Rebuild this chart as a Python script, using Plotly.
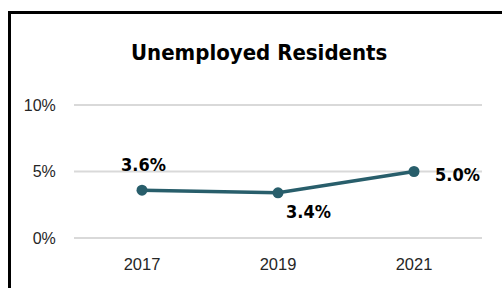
import plotly.graph_objects as go

years = ["2017", "2019", "2021"]
rates = [3.6, 3.4, 5.0]
labels = ["3.6%", "3.4%", "5.0%"]
y_ticks = [0, 5, 10]
y_tick_text = ["0%", "5%", "10%"]

W, H = 502, 288
L, R, T, B = 74, 20, 104, 49
pw, ph = W - L - R, H - T - B

def px(x):
    return (x - L) / pw

def py(y):
    return (H - B - y) / ph

line_color = "#285E6B"
cond = "DejaVu Sans Condensed, Liberation Sans Narrow, sans-serif"

fig = go.Figure()

# gridlines
for v in y_ticks:
    fig.add_shape(type="line", xref="paper", yref="y", x0=0, x1=1, y0=v, y1=v,
                  line=dict(color="#D9D9D9", width=2), layer="below")

fig.add_trace(go.Scatter(
    x=years, y=rates, mode="lines+markers",
    line=dict(color=line_color, width=3.5),
    marker=dict(color=line_color, size=11, line=dict(width=0)),
    hoverinfo="skip", showlegend=False,
))

label_font = dict(family=cond, size=18, color="#000000")
shifts = [(1, 26), (30, -19), (43, -3)]
for i, (yv, t, (dx, dy)) in enumerate(zip(rates, labels, shifts)):
    fig.add_annotation(x=i, y=yv, text="<b>" + t + "</b>", showarrow=False,
                       xshift=dx, yshift=dy, font=label_font)

fig.add_annotation(xref="paper", yref="paper", x=px(259), y=py(52),
                   text="<b>Unemployed Residents</b>", showarrow=False,
                   font=dict(family=cond, size=22, color="#000000"),
                   xanchor="center", yanchor="middle")

# frame
fig.add_shape(type="line", xref="paper", yref="paper", x0=px(9.5), x1=px(9.5), y0=py(11), y1=py(300),
              line=dict(color="black", width=3))
fig.add_shape(type="line", xref="paper", yref="paper", x0=px(8), x1=px(510), y0=py(12.5), y1=py(12.5),
              line=dict(color="black", width=3))

fig.update_layout(
    width=W, height=H,
    margin=dict(l=L, r=R, t=T, b=B),
    paper_bgcolor="white", plot_bgcolor="white",
    xaxis=dict(type="category", range=[-0.5, 2.5], showgrid=False, zeroline=False, showline=False,
               ticks="outside", ticklen=10, tickcolor="rgba(0,0,0,0)",
               tickfont=dict(family="Liberation Sans, Arial, sans-serif", size=16.5, color="#262626")),
    yaxis=dict(range=[-0.07, 10.07], tickvals=y_ticks, ticktext=y_tick_text, showgrid=False,
               zeroline=False, showline=False,
               ticks="outside", ticklen=14, tickcolor="rgba(0,0,0,0)",
               tickfont=dict(family="Liberation Sans, Arial, sans-serif", size=16, color="#262626")),
)

fig.write_html("out.html", config={"displayModeBar": False},
               post_script="document.body.style.margin='0';")
